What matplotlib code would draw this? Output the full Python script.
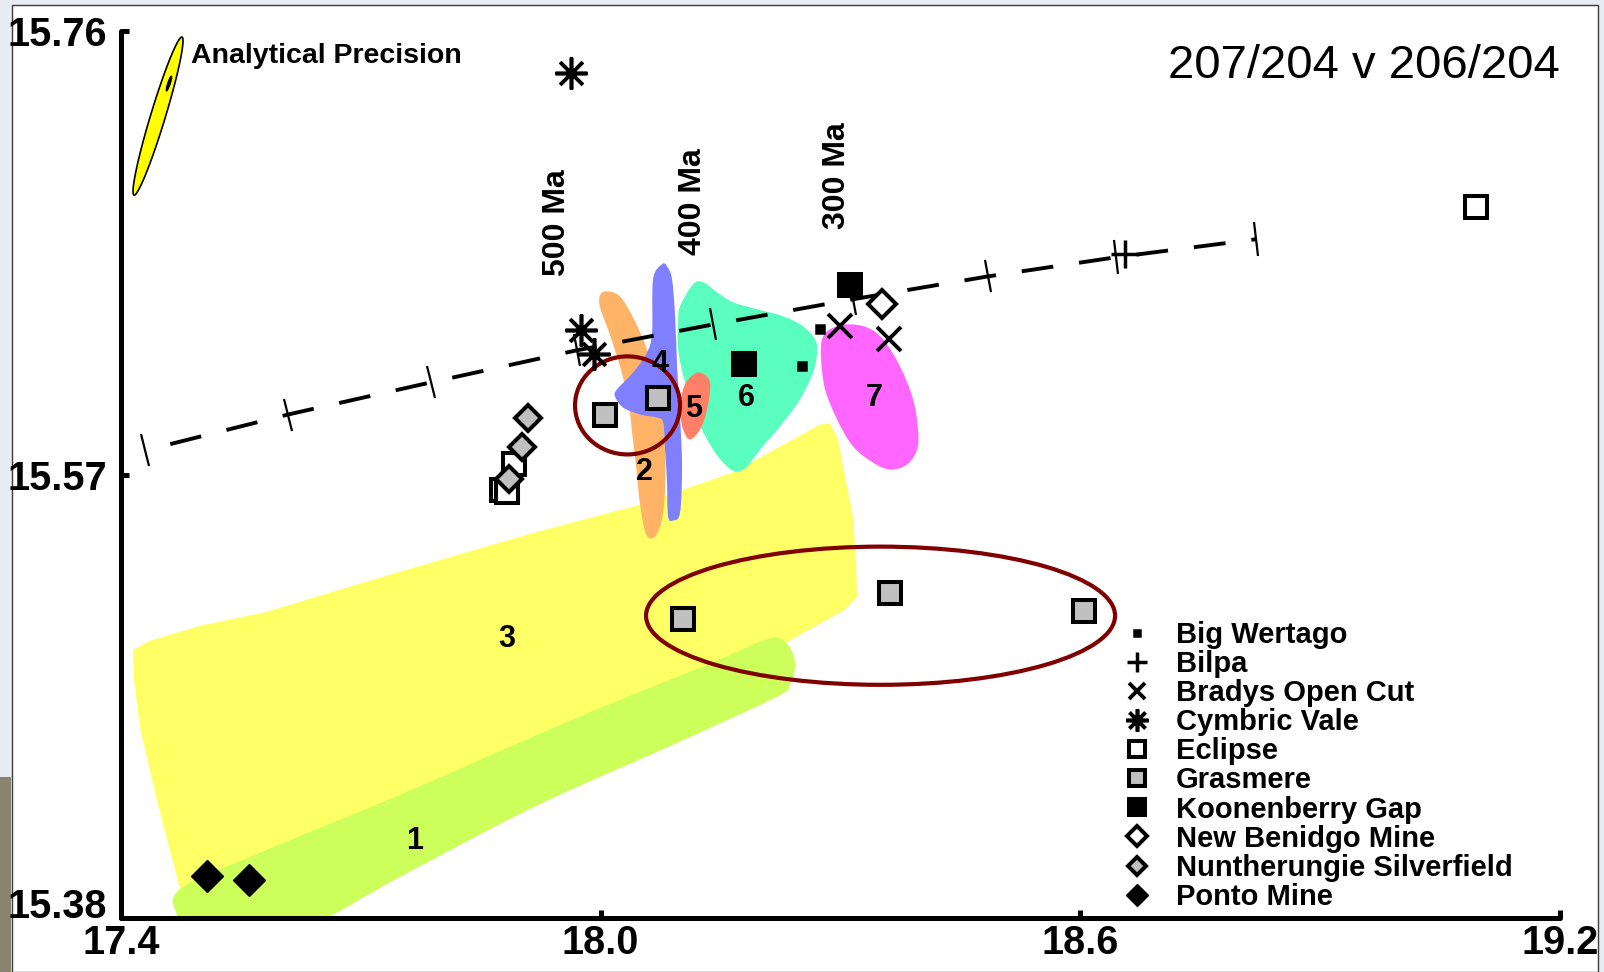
import numpy as np
import matplotlib
matplotlib.use("Agg")
import matplotlib.pyplot as plt
from matplotlib.patches import PathPatch, Ellipse, Rectangle, Polygon
from matplotlib.path import Path
from matplotlib.markers import MarkerStyle
from matplotlib.transforms import Affine2D

plt.rcParams["font.family"] = ["Liberation Sans", "DejaVu Sans"]

# --- lead isotope data: 206Pb/204Pb (x) and 207Pb/204Pb (y) ---
big_wertago = ([18.2744, 18.2519], [15.6324, 15.6163])
bilpa = ([18.6560], [15.6644])
bradys = ([18.2988, 18.3601], [15.6337, 15.6279])
cymbric = ([17.9630, 17.9751, 17.9917], [15.7420, 15.6319, 15.6215])
eclipse = ([19.0945, 17.8760, 17.8829, 17.8910], [15.6845, 15.5634, 15.5623, 15.5743])
grasmere = ([18.0055, 18.0718, 18.1024, 18.3614, 18.6047],
            [15.5957, 15.6026, 15.5082, 15.5192, 15.5117])
koonenberry = ([18.1794, 18.3113], [15.6174, 15.6513])
new_benidgo = ([18.3520], [15.6431])
nuntherungie = ([17.9092, 17.9017, 17.8854], [15.5944, 15.5816, 15.5679])
ponto = ([17.5070, 17.5595], [15.3980, 15.3963])

# growth curve, ticks every 100 Ma (800 Ma -> 0 Ma)
curve_x = [17.430, 17.609, 17.788, 17.970, 18.141, 18.316, 18.485, 18.645, 18.820]
curve_y = [15.5803, 15.5957, 15.6095, 15.6232, 15.6343, 15.6451, 15.6549, 15.6631, 15.6708]
age_labels = ["500 Ma", "400 Ma", "300 Ma"]
age_label_x = [17.946, 18.115, 18.295]
age_label_y = [15.678, 15.6868, 15.6982]

# field outlines
field3_x = [17.4150, 17.4363, 17.4988, 17.5826, 17.6652, 17.7490, 17.9167, 18.0493,
            18.1656, 18.2744, 18.2870, 18.2970, 18.3032, 18.3157, 18.3195, 18.3207,
            18.3057, 18.2494, 18.2282, 18.1243, 17.8741, 17.6239, 17.4863, 17.4738,
            17.4450, 17.4238, 17.4163]
field3_y = [15.4949, 15.4988, 15.5052, 15.5112, 15.5198, 15.5284, 15.5451, 15.5571,
            15.5709, 15.5914, 15.5919, 15.5850, 15.5734, 15.5520, 15.5335, 15.5177,
            15.5121, 15.5014, 15.4971, 15.4778, 15.4349, 15.4049, 15.3856, 15.3924,
            15.4302, 15.4615, 15.4821]
field1_x = [17.4738, 17.5826, 17.7490, 17.9730, 18.1393, 18.1994, 18.2219, 18.2369,
            18.2432, 18.2369, 18.2182, 18.0843, 17.9167, 17.7490, 17.6239, 17.4788,
            17.4713]
field1_y = [15.3924, 15.4092, 15.4328, 15.4662, 15.4894, 15.4984, 15.5001, 15.4958,
            15.4885, 15.4799, 15.4744, 15.4533, 15.4276, 15.3976, 15.3749, 15.3620,
            15.3791]
field2_x = [18.0080, 18.0242, 18.0405, 18.0555, 18.0680, 18.0768, 18.0805, 18.0805,
            18.0768, 18.0680, 18.0568, 18.0493, 18.0443, 18.0393, 18.0343, 18.0242,
            18.0105, 17.9992, 17.9992]
field2_y = [15.6485, 15.6463, 15.6373, 15.6258, 15.6129, 15.5979, 15.5807, 15.5636,
            15.5507, 15.5434, 15.5443, 15.5571, 15.5734, 15.5880, 15.6022, 15.6163,
            15.6309, 15.6416, 15.6468]
field4_x = [18.0768, 18.0655, 18.0643, 18.0580, 18.0405, 18.0205, 18.0180, 18.0280,
            18.0493, 18.0705, 18.0780, 18.0805, 18.0830, 18.0843, 18.0906, 18.0993,
            18.1018, 18.0993, 18.0956, 18.0931, 18.0893, 18.0830]
field4_y = [15.6601, 15.6536, 15.6309, 15.6223, 15.6137, 15.6065, 15.6034, 15.5987,
            15.5957, 15.5944, 15.5923, 15.5807, 15.5666, 15.5520, 15.5503, 15.5537,
            15.5734, 15.5949, 15.6163, 15.6378, 15.6536, 15.6592]
field5_x = [18.1243, 18.1368, 18.1331, 18.1243, 18.1118, 18.1031, 18.0993, 18.1031, 18.1118]
field5_y = [15.6137, 15.6095, 15.5979, 15.5893, 15.5850, 15.5893, 15.5979, 15.6065, 15.6116]
field6_x = [18.0993, 18.1156, 18.1281, 18.1456, 18.1656, 18.1956, 18.2282, 18.2532,
            18.2682, 18.2707, 18.2657, 18.2494, 18.2244, 18.1994, 18.1831, 18.1706,
            18.1581, 18.1406, 18.1206, 18.1056, 18.0968, 18.0968]
field6_y = [15.6421, 15.6515, 15.6524, 15.6481, 15.6438, 15.6408, 15.6378, 15.6335,
            15.6279, 15.6223, 15.6137, 15.6022, 15.5906, 15.5807, 15.5734, 15.5713,
            15.5734, 15.5807, 15.5936, 15.6095, 15.6236, 15.6352]
field7_x = [18.2870, 18.3082, 18.3332, 18.3533, 18.3745, 18.3908, 18.3970, 18.3958,
            18.3833, 18.3620, 18.3408, 18.3157, 18.2957, 18.2807, 18.2757, 18.2769]
field7_y = [15.6322, 15.6343, 15.6330, 15.6279, 15.6163, 15.6022, 15.5893, 15.5807,
            15.5743, 15.5721, 15.5751, 15.5820, 15.5936, 15.6065, 15.6193, 15.6279]

field_labels = ["1", "2", "3", "4", "5", "6", "7"]
field_label_x = [17.7669, 18.0548, 17.8821, 18.0740, 18.1162, 18.1828, 18.3427]
field_label_y = [15.4130, 15.5710, 15.4994, 15.6175, 15.5982, 15.6026, 15.6026]

# analytical precision ellipse: centre and half-axis vectors
prec_center = (17.4463, 15.72355)
prec_major = (0.0300, 0.03386)
prec_minor = (0.0088, -0.00090)
prec_inner_center = (17.4600, 15.7375)
prec_inner_major = (0.0031, 0.0032)
prec_inner_minor = (0.0016, -0.00017)

# grouping ellipses (centre x, centre y, width, height)
group_ellipses = [(18.0336, 15.5996, 0.1313, 0.0420),
                  (18.3501, 15.5095, 0.5867, 0.0592)]


def smooth_outline(xs, ys):
    # closed Catmull-Rom outline through the given points as cubic Beziers
    pts = np.column_stack([xs, ys])
    n = len(pts)
    verts = [pts[0]]
    codes = [Path.MOVETO]
    for i in range(n):
        p0, p1, p2, p3 = pts[i - 1], pts[i], pts[(i + 1) % n], pts[(i + 2) % n]
        verts += [p1 + (p2 - p0) / 6, p2 - (p3 - p1) / 6, p2]
        codes += [Path.CURVE4] * 3
    verts.append(pts[0])
    codes.append(Path.CLOSEPOLY)
    return Path(verts, codes)


def straight_outline(xs, ys):
    return Path(np.column_stack([xs, ys]), closed=False)


def ellipse_points(center, major, minor, n=120):
    t = np.linspace(0, 2 * np.pi, n)
    c = np.asarray(center)
    return c + np.outer(np.cos(t), major) + np.outer(np.sin(t), minor)


fig = plt.figure(figsize=(16.04, 9.72), dpi=100, facecolor="#e8edf4")
fig.patches.append(Rectangle((0, 0), 11 / 1604, 195 / 972, transform=fig.transFigure,
                             facecolor="#8a8370", lw=0, zorder=-3))
fig.patches.append(Rectangle((12 / 1604, 0.0), 1586 / 1604, 967 / 972,
                             transform=fig.transFigure, facecolor="white",
                             edgecolor="#3c3c3c", lw=1.0, zorder=-2))

ax = fig.add_axes([121 / 1604, 54 / 972, 1439 / 1604, 887 / 972])
ax.patch.set_alpha(0)
ax.set_xlim(17.4, 19.2)
ax.set_ylim(15.38, 15.76)

for side in ["top", "right"]:
    ax.spines[side].set_visible(False)
for side in ["left", "bottom"]:
    ax.spines[side].set_linewidth(3.6)
    ax.spines[side].set_capstyle("round")

ax.set_xticks([17.4, 18.0, 18.6, 19.2], ["17.4", "18.0", "18.6", "19.2"],
              fontweight="bold", fontsize=28.5)
ax.set_yticks([15.38, 15.57, 15.76], ["15.38", "15.57", "15.76"],
              fontweight="bold", fontsize=28.5)
ax.tick_params(direction="in", length=6, width=3.6)
ax.tick_params(axis="y", pad=10)
ax.tick_params(axis="x", pad=4)
ax.yaxis.get_major_ticks()[0].label1.set_verticalalignment("baseline")

# broad fields 3 and 1 have straight sides; the small fields are rounded
fields = [
    (field3_x, field3_y, "#ffff66", straight_outline),
    (field1_x, field1_y, "#ccff5a", smooth_outline),
    (field2_x, field2_y, "#ffb366", smooth_outline),
    (field4_x, field4_y, "#8080ff", smooth_outline),
    (field6_x, field6_y, "#5affc0", smooth_outline),
    (field7_x, field7_y, "#ff66ff", smooth_outline),
    (field5_x, field5_y, "#ff8066", smooth_outline),
]
for xs, ys, col, outline in fields:
    ax.add_patch(PathPatch(outline(xs, ys), facecolor=col,
                           edgecolor="none", zorder=1))

for cx, cy, w, h in group_ellipses:
    ax.add_patch(Ellipse((cx, cy), w, h, fill=False, edgecolor="#800000",
                         lw=3.0, zorder=3))

# growth curve with age ticks
on, off = 8.2, 6.7
ax.plot(curve_x, curve_y, color="black", lw=2.8, zorder=2,
        linestyle=(on, (on, off)))
disp = ax.transData.transform(np.column_stack([curve_x, curve_y]))
grad = np.gradient(disp, axis=0)
angles = np.degrees(np.arctan2(grad[:, 1], grad[:, 0]))
for x, y, a in zip(curve_x, curve_y, angles):
    ax.plot([x], [y], ls="none", color="black", ms=24, mew=1.6, zorder=2,
            marker=MarkerStyle("|", transform=Affine2D().rotate_deg(a)))

for lbl, x, y in zip(age_labels, age_label_x, age_label_y):
    ax.text(x, y, lbl, rotation=90, ha="center", va="center",
            fontsize=23, fontweight="bold", zorder=6)

for lbl, x, y in zip(field_labels, field_label_x, field_label_y):
    ax.text(x, y, lbl, ha="center", va="center", fontsize=22,
            fontweight="bold", zorder=6)

# analytical precision
ax.add_patch(Polygon(ellipse_points(prec_center, prec_major, prec_minor),
                     closed=True, facecolor="#ffff00", edgecolor="black",
                     lw=1.2, zorder=4, clip_on=False))
ax.add_patch(Polygon(ellipse_points(prec_inner_center, prec_inner_major, prec_inner_minor),
                     closed=True, facecolor="black", edgecolor="black",
                     lw=0.8, zorder=4, clip_on=False))
ax.text(17.4879, 15.7495, "Analytical Precision", ha="left", va="center",
        fontsize=20.5, fontweight="bold")

# sample sites
ax.plot(*big_wertago, ls="none", marker="s", ms=5.5, mfc="black", mec="black",
        mew=1.8, zorder=5, label="Big Wertago")
ax.plot(*bilpa, ls="none", marker="+", ms=20, mec="black", mew=2.5, zorder=5,
        label="Bilpa")
ax.plot(*bradys, ls="none", marker="x", ms=17, mec="black", mew=2.8, zorder=5,
        label="Bradys Open Cut")
ax.plot(*cymbric, ls="none", marker=(8, 2, 0), ms=23, mec="black", mew=2.6,
        zorder=5, label="Cymbric Vale")
ax.plot(*eclipse, ls="none", marker="s", ms=16.5, mfc="white", mec="black",
        mew=2.9, zorder=5, label="Eclipse")
ax.plot(*grasmere, ls="none", marker="s", ms=16.5, mfc="#c0c0c0", mec="black",
        mew=2.9, zorder=5, label="Grasmere")
ax.plot(*koonenberry, ls="none", marker="s", ms=16.5, mfc="black", mec="black",
        mew=2.9, zorder=5, label="Koonenberry Gap")
ax.plot(*new_benidgo, ls="none", marker="D", ms=14.3, mfc="white", mec="black",
        mew=2.9, zorder=5, label="New Benidgo Mine")
ax.plot(*nuntherungie, ls="none", marker="D", ms=13.2, mfc="#c0c0c0", mec="black",
        mew=2.9, zorder=5, label="Nuntherungie Silverfield")
ax.plot(*ponto, ls="none", marker="D", ms=16.1, mfc="black", mec="black",
        mew=1.0, zorder=5, label="Ponto Mine")

ax.text(1.0, 0.96, "207/204 v 206/204", transform=ax.transAxes, ha="right",
        va="center", fontsize=34)

ax.legend(loc="upper left", bbox_to_anchor=(0.694, 0.335), frameon=False,
          prop={"weight": "bold", "size": 21}, markerscale=0.7,
          handlelength=1.2, handletextpad=0.74, labelspacing=0.038,
          borderpad=0, borderaxespad=0, numpoints=1)

fig.savefig("out.png", dpi=100, facecolor=fig.get_facecolor())
